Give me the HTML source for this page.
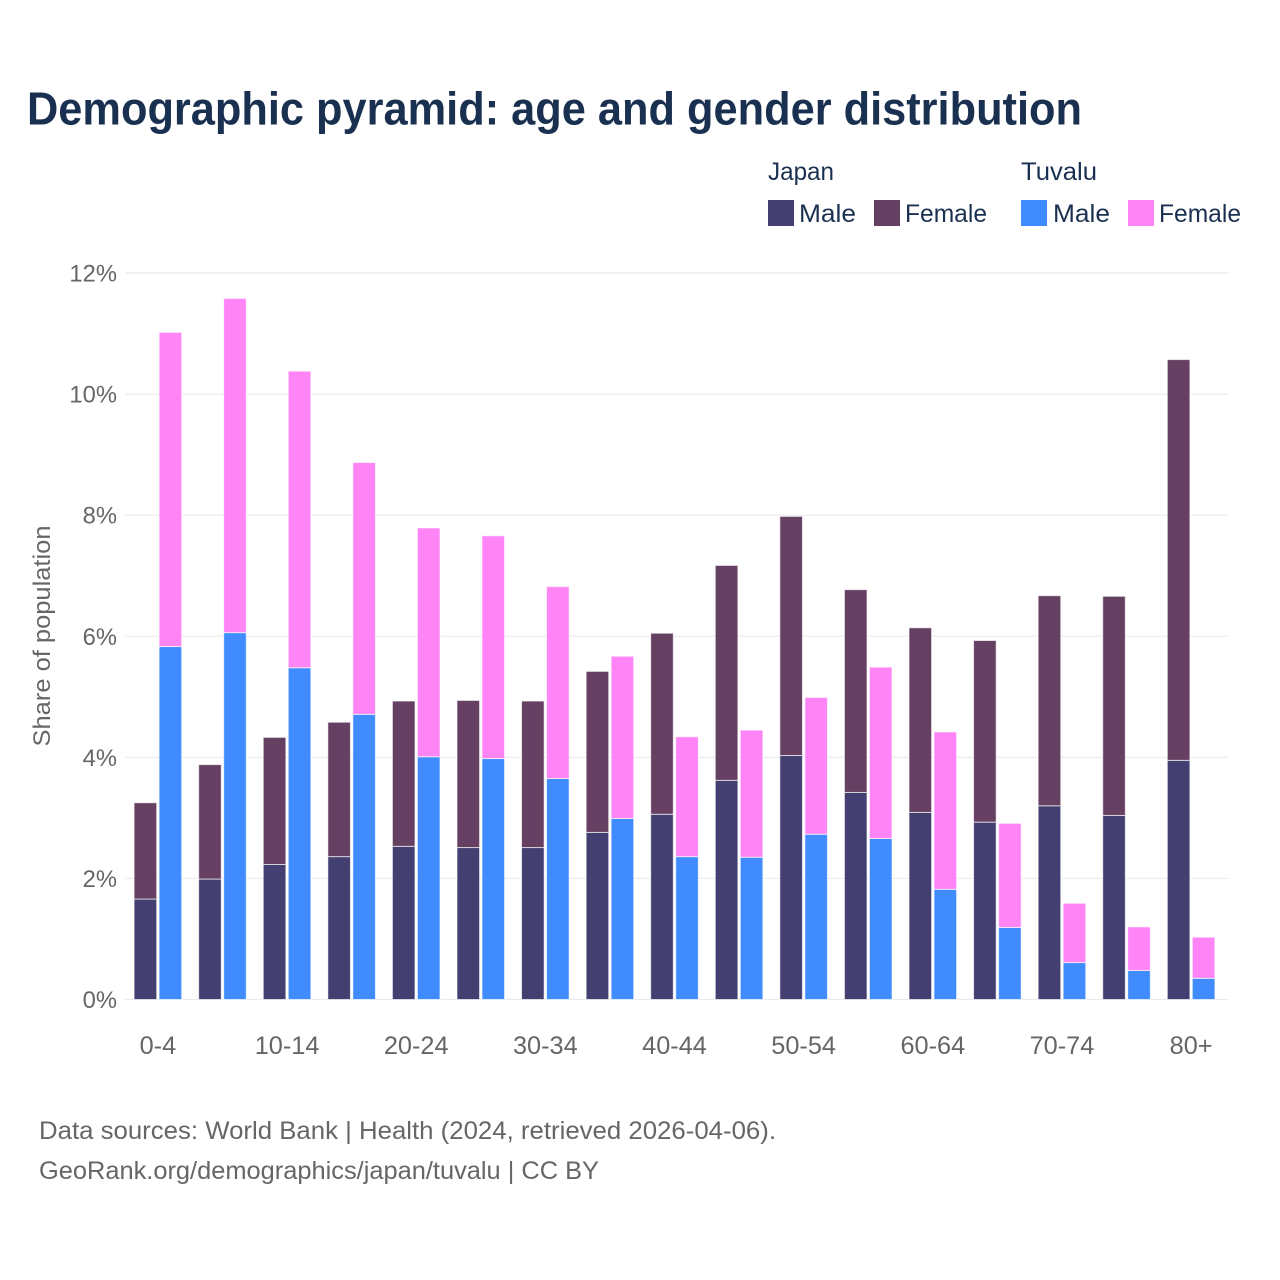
<!DOCTYPE html>
<html lang="en">
<head>
<meta charset="utf-8">
<title>Demographic pyramid: age and gender distribution</title>
<style>
html,body{margin:0;padding:0;background:#fff;width:1280px;height:1280px;overflow:hidden}
svg{display:block}
text{font-family:"Liberation Sans",sans-serif}
</style>
</head>
<body>
<svg id="chart" xmlns="http://www.w3.org/2000/svg" width="1280" height="1280" viewBox="0 0 1280 1280">
  <rect x="0" y="0" width="1280" height="1280" fill="#ffffff"/>
  <text x="27" y="124.5" font-size="46" font-weight="700" fill="#1a3050" textLength="1055" lengthAdjust="spacingAndGlyphs">Demographic pyramid: age and gender distribution</text>

  <g font-size="25" fill="#1a3050">
    <text x="768" y="180" textLength="66" lengthAdjust="spacingAndGlyphs">Japan</text>
    <text x="1021" y="180" textLength="76" lengthAdjust="spacingAndGlyphs">Tuvalu</text>
    <rect x="768" y="200" width="26" height="26" fill="#433f70"/>
    <text x="799" y="222" textLength="57" lengthAdjust="spacingAndGlyphs">Male</text>
    <rect x="874" y="200" width="26" height="26" fill="#664062"/>
    <text x="905" y="222" textLength="82" lengthAdjust="spacingAndGlyphs">Female</text>
    <rect x="1021" y="200" width="26" height="26" fill="#408cff"/>
    <text x="1053" y="222" textLength="57" lengthAdjust="spacingAndGlyphs">Male</text>
    <rect x="1128" y="200" width="26" height="26" fill="#ff85f7"/>
    <text x="1159" y="222" textLength="82" lengthAdjust="spacingAndGlyphs">Female</text>
  </g>

  <g id="grid"></g>
  <g id="yticks"></g>
  <g id="bars"></g>
  <g id="xticks"></g>

  <text transform="translate(50 636) rotate(-90)" text-anchor="middle" font-size="24" fill="#666666" textLength="221" lengthAdjust="spacingAndGlyphs">Share of population</text>

  <text x="39" y="1139" font-size="25" fill="#666666" textLength="737" lengthAdjust="spacingAndGlyphs">Data sources: World Bank | Health (2024, retrieved 2026-04-06).</text>
  <text x="39" y="1179" font-size="25" fill="#666666" textLength="560" lengthAdjust="spacingAndGlyphs">GeoRank.org/demographics/japan/tuvalu | CC BY</text>
</svg>
<script>
const categories = ['0-4','5-9','10-14','15-19','20-24','25-29','30-34','35-39','40-44','45-49','50-54','55-59','60-64','65-69','70-74','75-79','80+'];
const tickValues = [0,2,4,6,8,10,12];
const japanMale = [1.66,1.99,2.23,2.36,2.53,2.51,2.51,2.76,3.06,3.62,4.03,3.42,3.09,2.93,3.20,3.04,3.95];
const japanFemale = [1.59,1.89,2.10,2.22,2.40,2.43,2.42,2.66,2.99,3.55,3.95,3.35,3.05,3.00,3.47,3.62,6.62];
const tuvaluMale = [5.83,6.06,5.48,4.71,4.01,3.98,3.65,2.99,2.36,2.35,2.73,2.66,1.82,1.19,0.61,0.48,0.35];
const tuvaluFemale = [5.19,5.52,4.90,4.16,3.78,3.68,3.17,2.68,1.98,2.10,2.26,2.83,2.60,1.72,0.98,0.72,0.68];

const NS = 'http://www.w3.org/2000/svg';
const plotLeft = 125.5, plotRight = 1228.5;
function yScale(v){ return 999.5 - v * 60.54; }
function xCenter(i){ return 157.9 + i * (1191.1 - 157.9) / (categories.length - 1); }
function make(tag, attrs, parent){
  const el = document.createElementNS(NS, tag);
  for (const k in attrs) el.setAttribute(k, attrs[k]);
  parent.appendChild(el);
  return el;
}

const grid = document.getElementById('grid');
const yticks = document.getElementById('yticks');
tickValues.forEach(function(t){
  const line = make('line', {x1: plotLeft, x2: plotRight, y1: yScale(t), y2: yScale(t), stroke: '#ebebeb', 'stroke-width': 1.2}, grid);
  
  
  const label = make('text', {x: 117, y: yScale(t) + 8.5, 'text-anchor': 'end', 'font-size': 24.5, fill: '#666666'}, yticks);
  
  
  label.textContent = t + '%';
  label.setAttribute('textLength', label.getComputedTextLength() * 0.97);
  label.setAttribute('lengthAdjust', 'spacingAndGlyphs');
});

const bars = document.getElementById('bars');
const barWidth = 22.6, gap = 1.2;
function drawBar(name, x, base, value, fill){
  const top = yScale(base + value);
  const bottom = yScale(base);
  const bar = make('rect', {x: x, y: top, width: barWidth, height: bottom - top, fill: fill, stroke: '#ffffff', 'stroke-opacity': 0.65, 'stroke-width': 1}, bars);
  
  
}
const xticks = document.getElementById('xticks');
categories.forEach(function(cat, i){
  const c = xCenter(i);
  const leftX = c - barWidth - gap;
  const rightX = c + gap;
  drawBar('bar-japan-male-' + cat, leftX, 0, japanMale[i], '#433f70');
  drawBar('bar-japan-female-' + cat, leftX, japanMale[i], japanFemale[i], '#664062');
  drawBar('bar-tuvalu-male-' + cat, rightX, 0, tuvaluMale[i], '#408cff');
  drawBar('bar-tuvalu-female-' + cat, rightX, tuvaluMale[i], tuvaluFemale[i], '#ff85f7');
  if (i % 2 === 0) {
    const label = make('text', {x: c, y: 1054, 'text-anchor': 'middle', 'font-size': 25.3, fill: '#666666'}, xticks);
    
    
    label.textContent = cat;
  }
});
</script>
</body>
</html>
